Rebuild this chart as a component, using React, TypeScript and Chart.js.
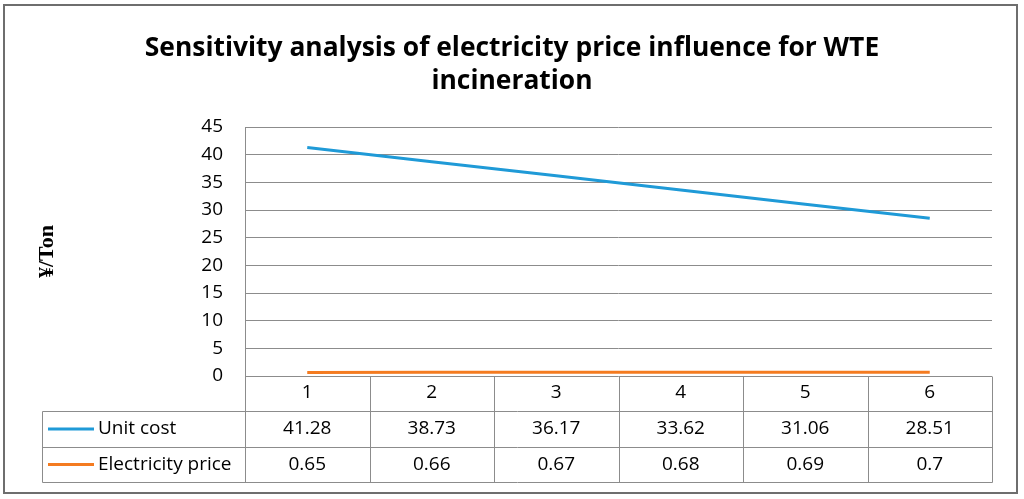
import React, { useEffect, useRef } from 'react';
import { Chart, registerables } from 'chart.js';

Chart.register(...registerables);

const categories = ['1', '2', '3', '4', '5', '6'];
const unitCost = [41.28, 38.73, 36.17, 33.62, 31.06, 28.51];
const electricityPrice = [0.65, 0.66, 0.67, 0.68, 0.69, 0.7];
const seriesNames = ['Unit cost', 'Electricity price'];
const seriesColors = ['#1F9AD7', '#F47B20'];
const yMin = 0;
const yMax = 45;
const yStep = 5;
const titleLines = ['Sensitivity analysis of electricity price influence for WTE', 'incineration'];
const yTitle = '¥/Ton';

const W = 1024;
const H = 499;
const FONT = '"Open Sans"';

const framePlugin = {
  id: 'frame',
  beforeDraw(chart: any) {
    const { ctx } = chart;
    ctx.save();
    ctx.fillStyle = '#ffffff';
    ctx.fillRect(0, 0, chart.width, chart.height);
    ctx.strokeStyle = '#6e6e6e';
    ctx.lineWidth = 2;
    ctx.strokeRect(4, 5, 1013, 488);
    ctx.restore();
  },
};

const tablePlugin = {
  id: 'dataTable',
  afterDraw(chart: any) {
    const { ctx, chartArea } = chart;
    const x = chart.scales.x;
    const L = chartArea.left;
    const R = chartArea.right;
    const B = chartArea.bottom;
    const catBottom = B + 35;
    const row1 = catBottom + 36;
    const row2 = row1 + 35;
    const tableLeft = 42;
    const n = chart.data.labels.length;

    ctx.save();
    ctx.strokeStyle = '#8c8c8c';
    ctx.lineWidth = 1;
    const line = (x1: number, y1: number, x2: number, y2: number) => {
      ctx.beginPath();
      ctx.moveTo(Math.round(x1) + 0.5, Math.round(y1) + 0.5);
      ctx.lineTo(Math.round(x2) + 0.5, Math.round(y2) + 0.5);
      ctx.stroke();
    };
    line(tableLeft, catBottom, R, catBottom);
    line(tableLeft, row1, R, row1);
    line(tableLeft, row2, R, row2);
    line(tableLeft, catBottom, tableLeft, row2);
    line(L, chartArea.top, L, row2);
    line(R, B, R, row2);
    for (let i = 1; i < n; i++) {
      const xb = (x.getPixelForValue(i - 1) + x.getPixelForValue(i)) / 2;
      line(xb, B, xb, row2);
    }

    const rows = [catBottom, row1];
    chart.data.datasets.forEach((ds: any, r: number) => {
      const top = rows[r];
      const bottom = r === 0 ? row1 : row2;
      const cy = (top + bottom) / 2;
      ctx.strokeStyle = ds.borderColor;
      ctx.lineWidth = 3;
      ctx.beginPath();
      ctx.moveTo(48, cy);
      ctx.lineTo(94, cy);
      ctx.stroke();
      ctx.fillStyle = '#000';
      ctx.font = `19px ${FONT}`;
      ctx.textBaseline = 'middle';
      ctx.textAlign = 'left';
      ctx.fillText(ds.label, 98, cy);
      ctx.textAlign = 'center';
      ds.data.forEach((v: number, i: number) => {
        ctx.fillText(String(v), x.getPixelForValue(i), cy);
      });
    });
    ctx.restore();
  },
};

export default function App() {
  const ref = useRef<HTMLCanvasElement>(null);

  useEffect(() => {
    document.body.style.margin = '0';
    const chart = new Chart(ref.current!, {
      type: 'line',
      data: {
        labels: categories,
        datasets: [
          {
            label: seriesNames[0],
            data: unitCost,
            borderColor: seriesColors[0],
            backgroundColor: seriesColors[0],
            borderWidth: 3,
            pointRadius: 0,
            tension: 0,
          },
          {
            label: seriesNames[1],
            data: electricityPrice,
            borderColor: seriesColors[1],
            backgroundColor: seriesColors[1],
            borderWidth: 3,
            pointRadius: 0,
            tension: 0,
          },
        ],
      },
      options: {
        responsive: false,
        animation: false,
        devicePixelRatio: 1,
        layout: { padding: { left: 0, right: 0, top: 0, bottom: 88 } },
        plugins: {
          legend: { display: false },
          tooltip: { enabled: false },
          title: {
            display: true,
            text: titleLines,
            color: '#000',
            font: { family: FONT, weight: 'bold', size: 26.4, lineHeight: 1.25 },
            padding: { top: 32, bottom: 29 },
          },
        },
        scales: {
          x: {
            offset: true,
            grid: { display: false, drawTicks: false },
            border: { display: false },
            ticks: { color: '#000', font: { family: FONT, size: 19 }, padding: 5, maxRotation: 0 },
            afterFit: (s: any) => {
              s.height = 35;
            },
          },
          y: {
            min: yMin,
            max: yMax,
            grid: { color: '#8c8c8c', drawTicks: false },
            border: { display: false },
            ticks: { stepSize: yStep, color: '#000', font: { family: FONT, size: 19 }, padding: 22 },
            title: {
              display: true,
              text: yTitle,
              color: '#000',
              font: { family: 'Liberation Serif', weight: 'bold', size: 22 },
              padding: { top: 34, bottom: 0 },
            },
            afterFit: (s: any) => {
              s.width = 245;
            },
          },
          yRight: {
            type: 'linear',
            position: 'right',
            grid: { display: false, drawTicks: false },
            border: { display: false },
            ticks: { display: false },
            afterFit: (s: any) => {
              s.width = 32;
            },
          },
        },
      },
      plugins: [framePlugin, tablePlugin],
    } as any);
    return () => chart.destroy();
  }, []);

  return (
    <div style={{ position: 'absolute', left: 0, top: 0, width: W, height: H }}>
      <canvas ref={ref} width={W} height={H} style={{ display: 'block' }} />
    </div>
  );
}
